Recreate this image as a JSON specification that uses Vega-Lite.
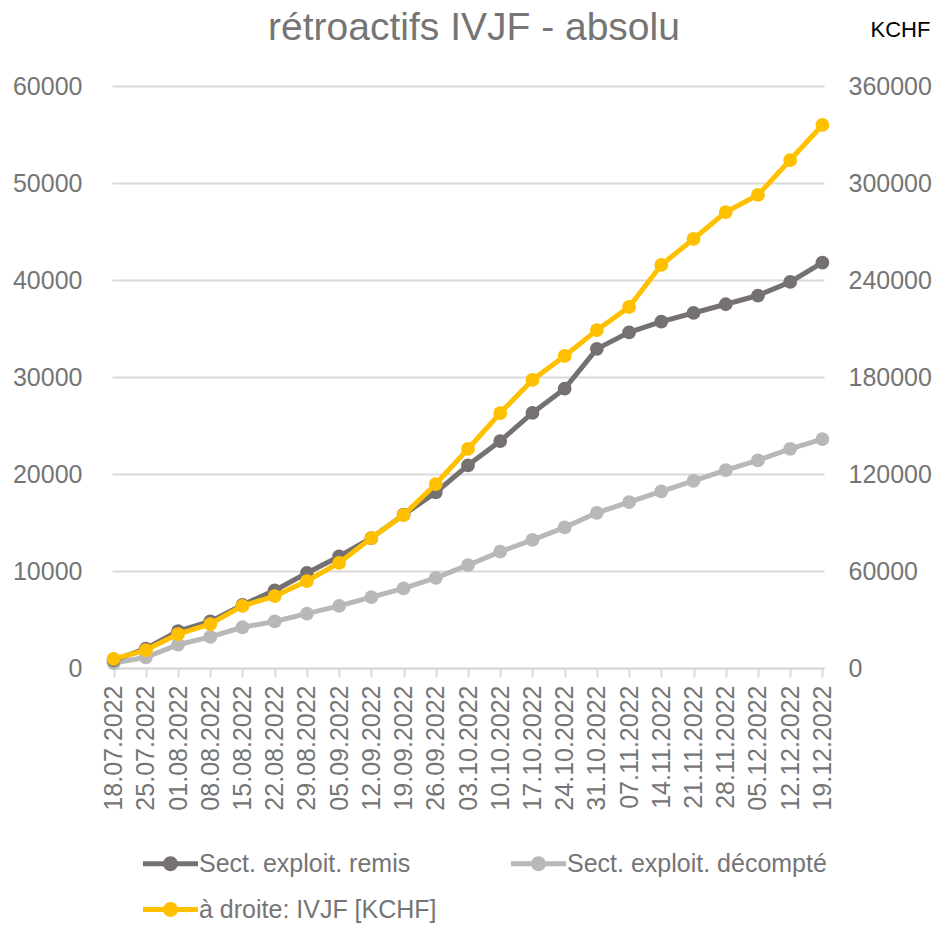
{
  "$schema": "https://vega.github.io/schema/vega-lite/v6.json",
  "autosize": "none",
  "width": 712,
  "height": 582,
  "padding": {"left": 112, "top": 86, "right": 113, "bottom": 265},
  "background": "white",
  "config": {
    "font": "Liberation Sans",
    "view": {"stroke": null}
  },
  "title": {
    "text": "rétroactifs IVJF - absolu",
    "fontSize": 39,
    "fontWeight": "normal",
    "color": "#757575",
    "frame": "group",
    "baseline": "alphabetic",
    "offset": -61,
    "anchor": "middle",
    "dx": 6
  },
  "datasets": {
    "left": [
      {"date": "18.07.2022", "serie": "Sect. exploit. décompté", "value": 500},
      {"date": "25.07.2022", "serie": "Sect. exploit. décompté", "value": 1100},
      {"date": "01.08.2022", "serie": "Sect. exploit. décompté", "value": 2400},
      {"date": "08.08.2022", "serie": "Sect. exploit. décompté", "value": 3200},
      {"date": "15.08.2022", "serie": "Sect. exploit. décompté", "value": 4200},
      {"date": "22.08.2022", "serie": "Sect. exploit. décompté", "value": 4800},
      {"date": "29.08.2022", "serie": "Sect. exploit. décompté", "value": 5600},
      {"date": "05.09.2022", "serie": "Sect. exploit. décompté", "value": 6400},
      {"date": "12.09.2022", "serie": "Sect. exploit. décompté", "value": 7300},
      {"date": "19.09.2022", "serie": "Sect. exploit. décompté", "value": 8200},
      {"date": "26.09.2022", "serie": "Sect. exploit. décompté", "value": 9300},
      {"date": "03.10.2022", "serie": "Sect. exploit. décompté", "value": 10600},
      {"date": "10.10.2022", "serie": "Sect. exploit. décompté", "value": 12000},
      {"date": "17.10.2022", "serie": "Sect. exploit. décompté", "value": 13200},
      {"date": "24.10.2022", "serie": "Sect. exploit. décompté", "value": 14500},
      {"date": "31.10.2022", "serie": "Sect. exploit. décompté", "value": 16000},
      {"date": "07.11.2022", "serie": "Sect. exploit. décompté", "value": 17100},
      {"date": "14.11.2022", "serie": "Sect. exploit. décompté", "value": 18200},
      {"date": "21.11.2022", "serie": "Sect. exploit. décompté", "value": 19300},
      {"date": "28.11.2022", "serie": "Sect. exploit. décompté", "value": 20400},
      {"date": "05.12.2022", "serie": "Sect. exploit. décompté", "value": 21400},
      {"date": "12.12.2022", "serie": "Sect. exploit. décompté", "value": 22600},
      {"date": "19.12.2022", "serie": "Sect. exploit. décompté", "value": 23600},
      {"date": "18.07.2022", "serie": "Sect. exploit. remis", "value": 800},
      {"date": "25.07.2022", "serie": "Sect. exploit. remis", "value": 2000},
      {"date": "01.08.2022", "serie": "Sect. exploit. remis", "value": 3800},
      {"date": "08.08.2022", "serie": "Sect. exploit. remis", "value": 4800},
      {"date": "15.08.2022", "serie": "Sect. exploit. remis", "value": 6500},
      {"date": "22.08.2022", "serie": "Sect. exploit. remis", "value": 8000},
      {"date": "29.08.2022", "serie": "Sect. exploit. remis", "value": 9800},
      {"date": "05.09.2022", "serie": "Sect. exploit. remis", "value": 11500},
      {"date": "12.09.2022", "serie": "Sect. exploit. remis", "value": 13400},
      {"date": "19.09.2022", "serie": "Sect. exploit. remis", "value": 15800},
      {"date": "26.09.2022", "serie": "Sect. exploit. remis", "value": 18100},
      {"date": "03.10.2022", "serie": "Sect. exploit. remis", "value": 20900},
      {"date": "10.10.2022", "serie": "Sect. exploit. remis", "value": 23400},
      {"date": "17.10.2022", "serie": "Sect. exploit. remis", "value": 26300},
      {"date": "24.10.2022", "serie": "Sect. exploit. remis", "value": 28800},
      {"date": "31.10.2022", "serie": "Sect. exploit. remis", "value": 32900},
      {"date": "07.11.2022", "serie": "Sect. exploit. remis", "value": 34600},
      {"date": "14.11.2022", "serie": "Sect. exploit. remis", "value": 35700},
      {"date": "21.11.2022", "serie": "Sect. exploit. remis", "value": 36600},
      {"date": "28.11.2022", "serie": "Sect. exploit. remis", "value": 37500},
      {"date": "05.12.2022", "serie": "Sect. exploit. remis", "value": 38400},
      {"date": "12.12.2022", "serie": "Sect. exploit. remis", "value": 39800},
      {"date": "19.12.2022", "serie": "Sect. exploit. remis", "value": 41800}
    ],
    "right": [
      {"date": "18.07.2022", "serie": "à droite: IVJF [KCHF]", "value": 5600},
      {"date": "25.07.2022", "serie": "à droite: IVJF [KCHF]", "value": 11100},
      {"date": "01.08.2022", "serie": "à droite: IVJF [KCHF]", "value": 21000},
      {"date": "08.08.2022", "serie": "à droite: IVJF [KCHF]", "value": 27200},
      {"date": "15.08.2022", "serie": "à droite: IVJF [KCHF]", "value": 38400},
      {"date": "22.08.2022", "serie": "à droite: IVJF [KCHF]", "value": 44500},
      {"date": "29.08.2022", "serie": "à droite: IVJF [KCHF]", "value": 53800},
      {"date": "05.09.2022", "serie": "à droite: IVJF [KCHF]", "value": 65000},
      {"date": "12.09.2022", "serie": "à droite: IVJF [KCHF]", "value": 80400},
      {"date": "19.09.2022", "serie": "à droite: IVJF [KCHF]", "value": 94600},
      {"date": "26.09.2022", "serie": "à droite: IVJF [KCHF]", "value": 113800},
      {"date": "03.10.2022", "serie": "à droite: IVJF [KCHF]", "value": 135500},
      {"date": "10.10.2022", "serie": "à droite: IVJF [KCHF]", "value": 157700},
      {"date": "17.10.2022", "serie": "à droite: IVJF [KCHF]", "value": 178200},
      {"date": "24.10.2022", "serie": "à droite: IVJF [KCHF]", "value": 193000},
      {"date": "31.10.2022", "serie": "à droite: IVJF [KCHF]", "value": 209000},
      {"date": "07.11.2022", "serie": "à droite: IVJF [KCHF]", "value": 223300},
      {"date": "14.11.2022", "serie": "à droite: IVJF [KCHF]", "value": 249300},
      {"date": "21.11.2022", "serie": "à droite: IVJF [KCHF]", "value": 265400},
      {"date": "28.11.2022", "serie": "à droite: IVJF [KCHF]", "value": 282000},
      {"date": "05.12.2022", "serie": "à droite: IVJF [KCHF]", "value": 292600},
      {"date": "12.12.2022", "serie": "à droite: IVJF [KCHF]", "value": 314200},
      {"date": "19.12.2022", "serie": "à droite: IVJF [KCHF]", "value": 335900}
    ]
  },
  "encoding": {
    "x": {
      "field": "date",
      "type": "ordinal",
      "sort": null,
      "scale": {"type": "point", "padding": 0.05},
      "axis": {
        "title": null,
        "labelAngle": -90,
        "labelAlign": "right",
        "labelBaseline": "middle",
        "labelFontSize": 25,
        "labelColor": "#757575",
        "labelPadding": 8,
        "domainColor": "#d9d9d9",
        "domainWidth": 2,
        "tickColor": "#d9d9d9",
        "tickWidth": 2,
        "tickSize": 9,
        "grid": false
      }
    },
    "color": {
      "field": "serie",
      "type": "nominal",
      "scale": {
        "domain": ["Sect. exploit. remis", "Sect. exploit. décompté", "à droite: IVJF [KCHF]"],
        "range": ["#767171", "#b8b8b8", "#ffc000"]
      },
      "legend": {
        "title": null,
        "orient": "none",
        "legendX": 31,
        "legendY": 750,
        "direction": "horizontal",
        "columns": 2,
        "columnPadding": 74,
        "rowPadding": 5,
        "labelFontSize": 25,
        "labelColor": "#757575",
        "labelOffset": 1,
        "labelLimit": 400,
        "symbolType": "M-1,-0.09L1,-0.09L1,0.09L-1,0.09Z M-0.27,0A0.27,0.27 0 1,1 0.27,0A0.27,0.27 0 1,1 -0.27,0Z",
        "symbolSize": 3025,
        "symbolStrokeWidth": 0,
        "encode": {
          "symbols": {
            "update": {
              "fill": {"scale": "color", "field": "value"},
              "fillOpacity": {"value": 1},
              "strokeWidth": {"value": 0}
            }
          }
        }
      }
    }
  },
  "layer": [
    {
      "data": {"name": "left"},
      "mark": {"type": "line", "strokeWidth": 5, "point": {"filled": true, "size": 190, "opacity": 1}},
      "encoding": {
        "y": {
          "field": "value",
          "type": "quantitative",
          "scale": {"domain": [0, 60000], "nice": false},
          "axis": {
            "title": null,
            "values": [0, 10000, 20000, 30000, 40000, 50000, 60000],
            "format": "d",
            "labelFontSize": 25,
            "labelColor": "#757575",
            "labelPadding": 30,
            "domain": false,
            "ticks": false,
            "gridColor": "#d9d9d9",
            "gridWidth": 2
          }
        }
      }
    },
    {
      "data": {"name": "right"},
      "mark": {"type": "line", "strokeWidth": 5, "point": {"filled": true, "size": 190, "opacity": 1}},
      "encoding": {
        "y": {
          "field": "value",
          "type": "quantitative",
          "scale": {"domain": [0, 360000], "nice": false},
          "axis": {
            "orient": "right",
            "title": "KCHF",
            "titleAngle": 0,
            "titleAlign": "left",
            "titleBaseline": "alphabetic",
            "titleX": 46,
            "titleY": -50,
            "titleFontSize": 22,
            "titleFontWeight": "normal",
            "titleColor": "#000000",
            "values": [0, 60000, 120000, 180000, 240000, 300000, 360000],
            "format": "d",
            "labelFontSize": 25,
            "labelColor": "#757575",
            "labelPadding": 24,
            "domain": false,
            "ticks": false,
            "grid": false
          }
        }
      }
    }
  ],
  "resolve": {"scale": {"y": "independent"}}
}
